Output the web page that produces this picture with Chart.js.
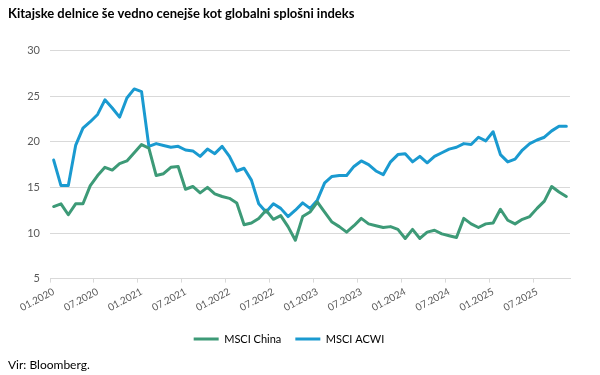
<!DOCTYPE html>
<html>
<head>
<meta charset="utf-8">
<script src="https://cdn.jsdelivr.net/npm/chart.js@4/dist/chart.umd.min.js"></script>
<style>
  html, body { margin: 0; padding: 0; background: #ffffff; }
  #wrap { width: 600px; height: 375px; position: relative; }
</style>
</head>
<body>
<div id="wrap"><canvas id="c" width="600" height="375"></canvas></div>
<script>
const categories = [
  '01.2020','02.2020','03.2020','04.2020','05.2020','06.2020','07.2020','08.2020','09.2020','10.2020','11.2020','12.2020',
  '01.2021','02.2021','03.2021','04.2021','05.2021','06.2021','07.2021','08.2021','09.2021','10.2021','11.2021','12.2021',
  '01.2022','02.2022','03.2022','04.2022','05.2022','06.2022','07.2022','08.2022','09.2022','10.2022','11.2022','12.2022',
  '01.2023','02.2023','03.2023','04.2023','05.2023','06.2023','07.2023','08.2023','09.2023','10.2023','11.2023','12.2023',
  '01.2024','02.2024','03.2024','04.2024','05.2024','06.2024','07.2024','08.2024','09.2024','10.2024','11.2024','12.2024',
  '01.2025','02.2025','03.2025','04.2025','05.2025','06.2025','07.2025','08.2025','09.2025','10.2025','11.2025'
];
const msciChina = [12.9,13.2,12.0,13.2,13.2,15.2,16.3,17.2,16.9,17.6,17.9,18.8,19.7,19.3,16.3,16.5,17.2,17.3,14.8,15.1,14.4,15.0,14.3,14.0,13.8,13.3,10.9,11.1,11.6,12.5,11.5,11.9,10.7,9.2,11.8,12.3,13.4,12.3,11.2,10.7,10.1,10.8,11.6,11.0,10.8,10.6,10.7,10.4,9.4,10.4,9.4,10.1,10.3,9.9,9.7,9.5,11.6,11.0,10.6,11.0,11.1,12.6,11.4,11.0,11.5,11.8,12.7,13.5,15.1,14.5,14.0];
const msciAcwi = [18.0,15.2,15.2,19.6,21.5,22.2,23.0,24.6,23.7,22.7,24.8,25.8,25.5,19.5,19.8,19.6,19.4,19.5,19.1,19.0,18.4,19.2,18.7,19.5,18.4,16.8,17.1,15.8,13.2,12.3,13.2,12.7,11.8,12.5,13.3,12.7,13.6,15.5,16.2,16.3,16.3,17.3,17.9,17.5,16.8,16.4,17.8,18.6,18.7,17.8,18.4,17.7,18.4,18.8,19.2,19.4,19.8,19.7,20.5,20.1,21.1,18.6,17.8,18.1,19.1,19.8,20.2,20.5,21.2,21.7,21.7];
const seriesNames = ['MSCI China', 'MSCI ACWI'];
const yTicks = [5, 10, 15, 20, 25, 30];
const titleText = 'Kitajske delnice še vedno cenejše kot globalni splošni indeks';
const sourceText = 'Vir: Bloomberg.';

const GREEN = '#3d9a77';
const BLUE = '#1a9ad0';
const GRID = '#d9d9d9';
const TXT = '#595959';
const FONT = 'Lato, "Open Sans", sans-serif';

new Chart(document.getElementById('c'), {
  type: 'line',
  data: {
    labels: categories,
    datasets: [
      { label: seriesNames[0], data: msciChina, borderColor: GREEN, backgroundColor: GREEN,
        borderWidth: 3, pointRadius: 0, tension: 0, borderJoinStyle: 'round', borderCapStyle: 'round' },
      { label: seriesNames[1], data: msciAcwi, borderColor: BLUE, backgroundColor: BLUE,
        borderWidth: 3, pointRadius: 0, tension: 0, borderJoinStyle: 'round', borderCapStyle: 'round' }
    ]
  },
  options: {
    responsive: false,
    animation: false,
    devicePixelRatio: 1,
    layout: { padding: { left: 8, right: 30, top: 0, bottom: 0 } },
    plugins: {
      tooltip: { enabled: false },
      title: {
        display: true, text: titleText, align: 'start', color: '#000000',
        font: { family: FONT, size: 13, weight: 'bold' },
        padding: { top: 6, bottom: 29 }
      },
      subtitle: {
        display: true, text: sourceText, position: 'bottom', align: 'start', color: '#000000',
        font: { family: FONT, size: 12, weight: 'normal' },
        padding: { top: 3, bottom: 3 }
      },
      legend: {
        position: 'bottom',
        labels: {
          color: '#000000',
          font: { family: FONT, size: 11 },
          boxWidth: 25, boxHeight: 3, padding: 14,
          generateLabels: (chart) => Chart.defaults.plugins.legend.labels.generateLabels(chart).map(l => {
            l.lineWidth = 0; l.fillStyle = chart.data.datasets[l.datasetIndex].borderColor; return l;
          })
        }
      }
    },
    scales: {
      x: {
        type: 'category',
        offset: true,
        afterFit: (s) => { s.height = 41; },
        border: { display: true, color: GRID, width: 1 },
        grid: {
          offset: true, drawOnChartArea: false, drawTicks: true, tickLength: 4,
          color: (ctx) => (ctx.index % 6 === 0 ? GRID : 'rgba(0,0,0,0)')
        },
        ticks: {
          autoSkip: false, maxRotation: 28, minRotation: 28, padding: 3,
          color: TXT, font: { family: FONT, size: 10 },
          callback: function (v, i) { return i % 6 === 0 ? this.getLabelForValue(v) : ''; }
        }
      },
      y: {
        min: 5, max: 30,
        afterFit: (s) => { s.width = 42; },
        afterBuildTicks: (s) => { s.ticks = yTicks.map(v => ({ value: v })); },
        border: { display: false },
        grid: { color: GRID, drawTicks: false, lineWidth: 1 },
        ticks: { color: TXT, font: { family: FONT, size: 11 }, padding: 10 }
      }
    }
  }
});
</script>
</body>
</html>
